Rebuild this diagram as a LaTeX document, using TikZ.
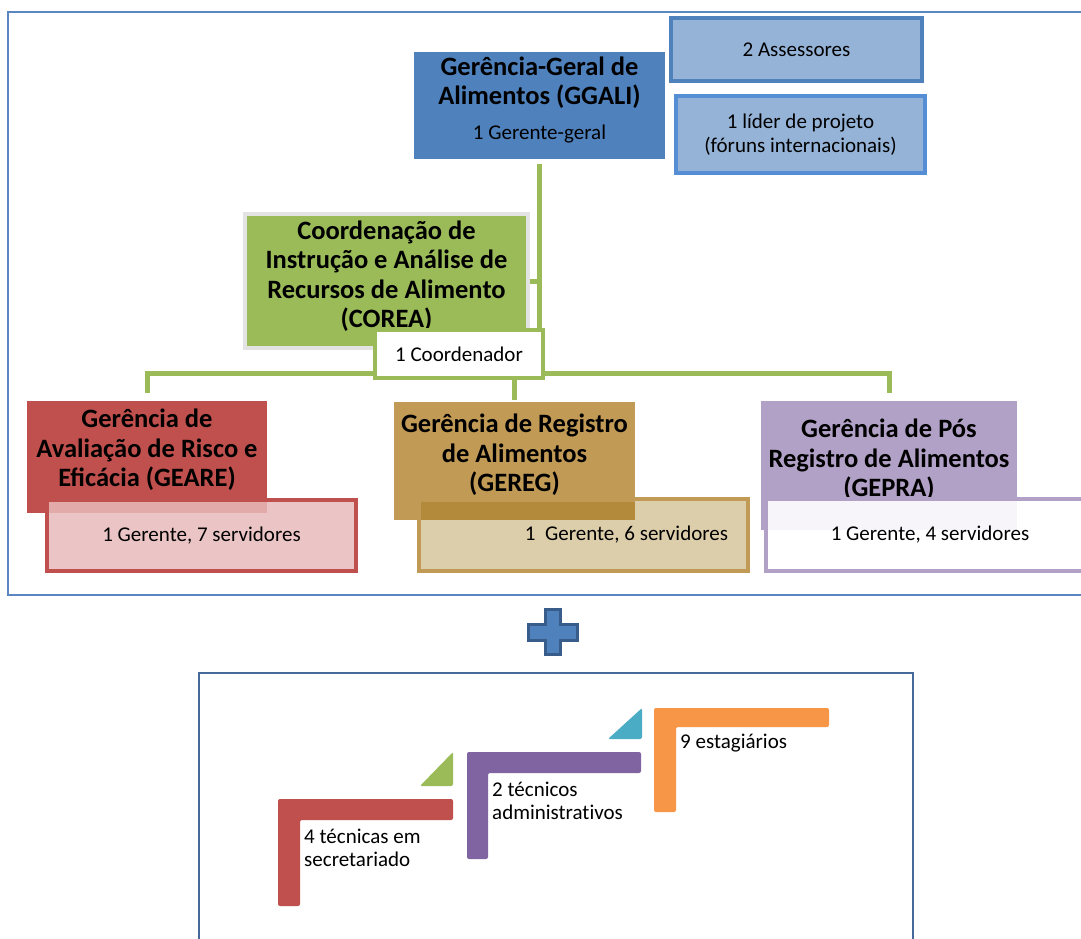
\documentclass[tikz,border=0pt]{standalone}
\usepackage{fontspec}
\setmainfont{Carlito}
\usetikzlibrary{backgrounds}
\definecolor{cblue}{HTML}{4F81BD}
\definecolor{clight}{HTML}{95B3D7}
\definecolor{clider}{HTML}{558ED5}
\definecolor{cgreen}{HTML}{9BBB59}
\definecolor{cgray}{HTML}{E3E3E3}
\definecolor{cred}{HTML}{C0504D}
\definecolor{cpink}{HTML}{E8BCBB}
\definecolor{cgold}{HTML}{C19A55}
\definecolor{ctan}{HTML}{DDCEAB}
\definecolor{cgolddark}{HTML}{B38A3B}
\definecolor{cpurple}{HTML}{B2A1C7}
\definecolor{cframe}{HTML}{5A87C2}
\definecolor{cframeb}{HTML}{45699A}
\definecolor{cplusb}{HTML}{385D8A}
\definecolor{cLpurple}{HTML}{8064A2}
\definecolor{cLorange}{HTML}{F79646}
\definecolor{cLcyan}{HTML}{4BACC6}
\begin{document}
\begin{tikzpicture}[x=1pt,y=-1pt,
  box/.style={inner sep=0pt, outer sep=0pt, anchor=north west},
  titletext/.style={font=\fontsize{26.5}{29.5}\selectfont\bfseries, align=center, inner sep=0pt},
  bodytext/.style={font=\fontsize{21}{24.5}\selectfont, align=center, inner sep=0pt},
  steptext/.style={font=\fontsize{21}{23}\selectfont, align=left, inner sep=0pt, anchor=west},
  conn/.style={draw=cgreen, line width=5pt},
  stepshape/.style={rounded corners=2pt},
]
\useasboundingbox (0,0) rectangle (1081,939);
\clip (0,0) rectangle (1081,939);

% frames
\draw[cframe, line width=2pt] (8,12) rectangle (1100,595);
\draw[cframeb, line width=2pt] (199,673) rectangle (913,960);

% top boxes
\node[box, fill=cblue, minimum width=251pt, minimum height=107pt] (ggali) at (414,52) {};
\node[titletext] (ggalit) at (539.5,82.5) {Gerência-Geral de\\Alimentos (GGALI)};
\node[bodytext] (ggalis) at (539.5,134) {1 Gerente-geral};

\node[box, bodytext, fill=clight, draw=cblue, line width=4pt, minimum width=251pt, minimum height=63pt] (ass) at (671,18) {2 Assessores};
\node[box, bodytext, fill=clight, draw=clider, line width=4pt, minimum width=249pt, minimum height=77pt] (lider) at (676,96) {1 líder de projeto\\(fóruns internacionais)};

% COREA
\node[box, fill=cgreen, draw=cgray, line width=4pt, minimum width=283pt, minimum height=134pt] (corea) at (245,214) {};
\node[titletext] (coreat) at (386.5,276) {Coordenação de\\Instrução e Análise de\\Recursos de Alimento\\(COREA)};
\node[box, bodytext, fill=white, draw=cgreen, line width=4pt, minimum width=168pt, minimum height=48pt] (coord) at (375,330) {1 Coordenador};

% GEARE
\node[box, fill=cred, minimum width=240pt, minimum height=112pt] (geare) at (27,401) {};
\node[titletext] (gearet) at (147,450) {Gerência de\\Avaliação de Risco e\\Eficácia (GEARE)};
\node[box, bodytext, fill=cpink, fill opacity=0.85, text opacity=1, draw=cred, line width=4pt, minimum width=309pt, minimum height=71pt] (geares) at (47,500) {1 Gerente, 7 servidores};

% GEREG
\node[box, bodytext, fill=ctan, draw=cgold, line width=4pt, minimum width=329pt, minimum height=72pt] (geregs) at (419,499) {\hspace*{86pt}1\ \ Gerente, 6 servidores};
\node[box, fill=cgold, minimum width=241pt, minimum height=118pt] (gereg) at (394,402) {};
\fill[cgolddark] (421,502) rectangle (635,520);
\node[titletext] (geregt) at (514.5,455) {Gerência de Registro\\de Alimentos\\(GEREG)};

% GEPRA
\node[box, fill=cpurple, minimum width=256pt, minimum height=129pt] (gepra) at (761,401) {};
\node[titletext] (geprat) at (889,460) {Gerência de Pós\\Registro de Alimentos\\(GEPRA)};
\node[box, fill=white, fill opacity=0.9, draw=cpurple, line width=4pt, minimum width=340pt, minimum height=72pt] (gepras) at (766,499) {};
\node[bodytext] (geprast) at (930,535) {1 Gerente, 4 servidores};

% connectors
\begin{pgfonlayer}{background}
\fill[white] (0,0) rectangle (1081,939);
\coordinate (bus) at (0,373);
\draw[conn] ([yshift=-5pt]ggali.south) -- (ggali.south |- bus);
\draw[conn] (corea.east) -- (corea.east -| ggali.south);
\draw[conn] ([yshift=8pt]geare.north) -- (geare.north |- bus) -- (gepra.north |- bus) -- ([yshift=8pt]gepra.north);
\draw[conn] (gereg.north |- bus) -- ([yshift=2pt]gereg.north);
\end{pgfonlayer}

% plus sign
\draw[fill=cblue, draw=cplusb, line width=3pt]
  (545.5,609.5) -- (560.5,609.5) -- (560.5,624.5) -- (577.5,624.5) -- (577.5,640.5)
  -- (560.5,640.5) -- (560.5,654.5) -- (545.5,654.5) -- (545.5,640.5) -- (528.5,640.5)
  -- (528.5,624.5) -- (545.5,624.5) -- cycle;

% steps
\fill[cred, stepshape] (278,799) -- (453,799) -- (453,820) -- (300,820) -- (300,906) -- (278,906) -- cycle;
\fill[cgreen, stepshape] (453,752) -- (453,786) -- (420,786) -- cycle;
\fill[cLpurple, stepshape] (467,752) -- (641,752) -- (641,773) -- (488,773) -- (488,859) -- (467,859) -- cycle;
\fill[cLcyan, stepshape] (642,708) -- (642,739) -- (608,739) -- cycle;
\fill[cLorange, stepshape] (654,708) -- (829,708) -- (829,727) -- (676,727) -- (676,812) -- (654,812) -- cycle;

\node[steptext] (s1) at (304,848) {4 técnicas em\\secretariado};
\node[steptext] (s2) at (492,801) {2 técnicos\\administrat\kern0pt ivos};
\node[steptext] (s3) at (680,743) {9 estagiários};
\end{tikzpicture}
\end{document}
